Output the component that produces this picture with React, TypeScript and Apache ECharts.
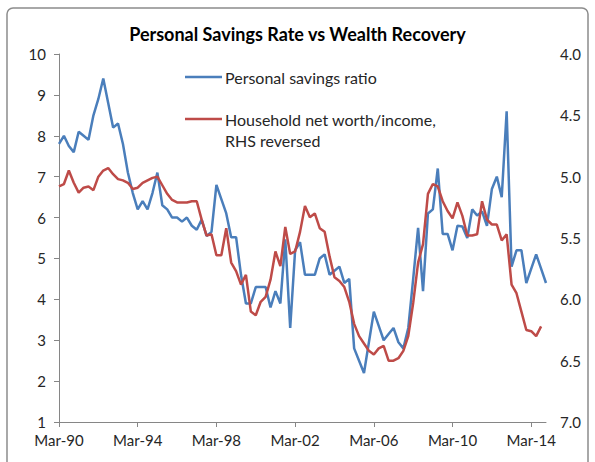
import React, { useEffect, useRef } from "react";
import * as echarts from "echarts";

const startYear = 1990;
const endYear = 2014;
const quarterMonths = ["Mar", "Jun", "Sep", "Dec"];
const categories: string[] = [];
for (let y = startYear; y <= endYear; y++) {
  for (const m of quarterMonths) categories.push(`${m}-${String(y).slice(2)}`);
}

const savingsRatio = [
  7.8, 8.0, 7.75, 7.6, 8.1, 8.0, 7.9, 8.5, 8.9, 9.4,
  8.8, 8.2, 8.3, 7.8, 7.1, 6.6, 6.2, 6.4, 6.2, 6.6,
  7.1, 6.3, 6.2, 6.0, 6.0, 5.9, 6.0, 5.8, 5.7, 5.95,
  5.55, 5.65, 6.8, 6.45, 6.1, 5.52, 5.52, 4.6, 3.9, 3.9,
  4.3, 4.3, 4.3, 3.8, 4.2, 3.9, 5.47, 3.3, 5.2, 5.4,
  4.6, 4.6, 4.6, 5.0, 5.1, 4.6, 4.7, 4.8, 4.4, 4.5,
  2.8, 2.5, 2.2, 2.95, 3.7, 3.35, 3.0, 3.15, 3.3, 2.95,
  2.8, 3.3, 4.5, 5.75, 4.2, 6.1, 6.2, 7.2, 5.6, 5.6,
  5.2, 5.8, 5.78, 5.5, 6.2, 6.05, 6.15, 5.8, 6.7, 7.0,
  6.5, 8.6, 4.8, 5.2, 5.2, 4.4, 4.75, 5.1, 4.75, 4.4,
];

const netWorthIncome = [
  5.08, 5.06, 4.95, 5.05, 5.13, 5.09, 5.08, 5.11, 5.0, 4.95,
  4.93, 4.98, 5.02, 5.03, 5.05, 5.1, 5.09, 5.05, 5.03, 5.01,
  5.0, 5.07, 5.14, 5.19, 5.21, 5.21, 5.21, 5.2, 5.2, 5.35,
  5.48, 5.47, 5.64, 5.64, 5.42, 5.7, 5.77, 5.88, 5.8, 6.1,
  6.13, 6.02, 5.98, 5.84, 5.61, 5.73, 5.41, 5.63, 5.61, 5.45,
  5.24, 5.33, 5.3, 5.42, 5.45, 5.65, 5.82, 5.85, 5.9, 6.02,
  6.2, 6.3, 6.36, 6.42, 6.45, 6.4, 6.38, 6.5, 6.5, 6.48,
  6.42, 6.3, 6.03, 5.7, 5.55, 5.14, 5.06, 5.08, 5.2, 5.28,
  5.34, 5.21, 5.32, 5.48, 5.48, 5.47, 5.2, 5.35, 5.39, 5.39,
  5.52, 5.47, 5.88, 5.95, 6.1, 6.25, 6.26, 6.3, 6.22,
];

const titleText = "Personal Savings Rate vs Wealth Recovery";
const seriesNames = ["Personal savings ratio", "Household net worth/income,\nRHS reversed"];
const legendLines = [["Personal savings ratio"], ["Household net worth/income,", "RHS reversed"]];

const BLUE = "#4A7EBB";
const RED = "#BE4B48";
const FONT = "Lato, 'Open Sans', sans-serif";
const TXT = "#262626";

export default function App() {
  const ref = useRef<HTMLDivElement>(null);
  useEffect(() => {
    if (!ref.current) return;
    const chart = echarts.init(ref.current, undefined, { renderer: "svg" });
    chart.setOption({
      animation: false,
      backgroundColor: "#ffffff",
      textStyle: { fontFamily: FONT },
      title: {
        text: titleText,
        left: "center",
        top: 25,
        padding: [0, 0, 0, 8],
        textStyle: { fontFamily: FONT, fontSize: 18, fontWeight: "bold", color: "#000" },
      },
      grid: { left: 59, right: 49, top: 54, bottom: 40, containLabel: false },
      xAxis: {
        type: "category",
        data: categories,
        boundaryGap: false,
        axisLine: { lineStyle: { color: "#868686", width: 1 } },
        axisTick: { interval: 15, length: 5, lineStyle: { color: "#868686" } },
        axisLabel: { interval: 15, margin: 10, fontSize: 15, color: TXT, fontFamily: FONT },
        splitLine: { show: false },
      },
      yAxis: [
        {
          type: "value",
          min: 1,
          max: 10,
          interval: 1,
          axisLine: { show: true, lineStyle: { color: "#868686", width: 1 } },
          axisTick: { show: true, length: 5, lineStyle: { color: "#868686" } },
          axisLabel: { margin: 13, fontSize: 15, color: TXT, fontFamily: FONT },
          splitLine: { show: false },
        },
        {
          type: "value",
          min: 4,
          max: 7,
          interval: 0.5,
          inverse: true,
          position: "right",
          axisLine: { show: false },
          axisTick: { show: false },
          axisLabel: {
            margin: 14,
            fontSize: 15,
            color: TXT,
            fontFamily: FONT,
            formatter: (v: number) => v.toFixed(1),
          },
          splitLine: { show: false },
        },
      ],
      series: [
        {
          name: seriesNames[0],
          type: "line",
          data: savingsRatio,
          yAxisIndex: 0,
          showSymbol: false,
          symbol: "none",
          lineStyle: { color: BLUE, width: 2.5 },
          itemStyle: { color: BLUE },
        },
        {
          name: seriesNames[1],
          type: "line",
          data: netWorthIncome,
          yAxisIndex: 1,
          showSymbol: false,
          symbol: "none",
          lineStyle: { color: RED, width: 2.5 },
          itemStyle: { color: RED },
        },
      ],
      graphic: [
        {
          type: "rect",
          shape: { x: 7, y: 8, width: 581, height: 480, r: 6 },
          style: { fill: "none", stroke: "#8c8c8c", lineWidth: 1.5 },
          silent: true,
          z: -1,
        },
        {
          type: "line",
          shape: { x1: 185, y1: 77, x2: 222, y2: 77 },
          style: { stroke: BLUE, lineWidth: 2.5 },
        },
        {
          type: "text",
          x: 225,
          y: 77,
          style: {
            text: legendLines[0][0],
            font: `16px ${FONT}`,
            fill: TXT,
            verticalAlign: "middle",
          },
        },
        {
          type: "line",
          shape: { x1: 185, y1: 119, x2: 222, y2: 119 },
          style: { stroke: RED, lineWidth: 2.5 },
        },
        {
          type: "text",
          x: 225,
          y: 119,
          style: {
            text: legendLines[1][0],
            font: `16px ${FONT}`,
            fill: TXT,
            verticalAlign: "middle",
          },
        },
        {
          type: "text",
          x: 225,
          y: 140,
          style: {
            text: legendLines[1][1],
            font: `16px ${FONT}`,
            fill: TXT,
            verticalAlign: "middle",
          },
        },
      ],
    });
    return () => chart.dispose();
  }, []);
  return (
    <div
      ref={ref}
      style={{ position: "absolute", left: 0, top: 0, width: 595, height: 462 }}
    />
  );
}
